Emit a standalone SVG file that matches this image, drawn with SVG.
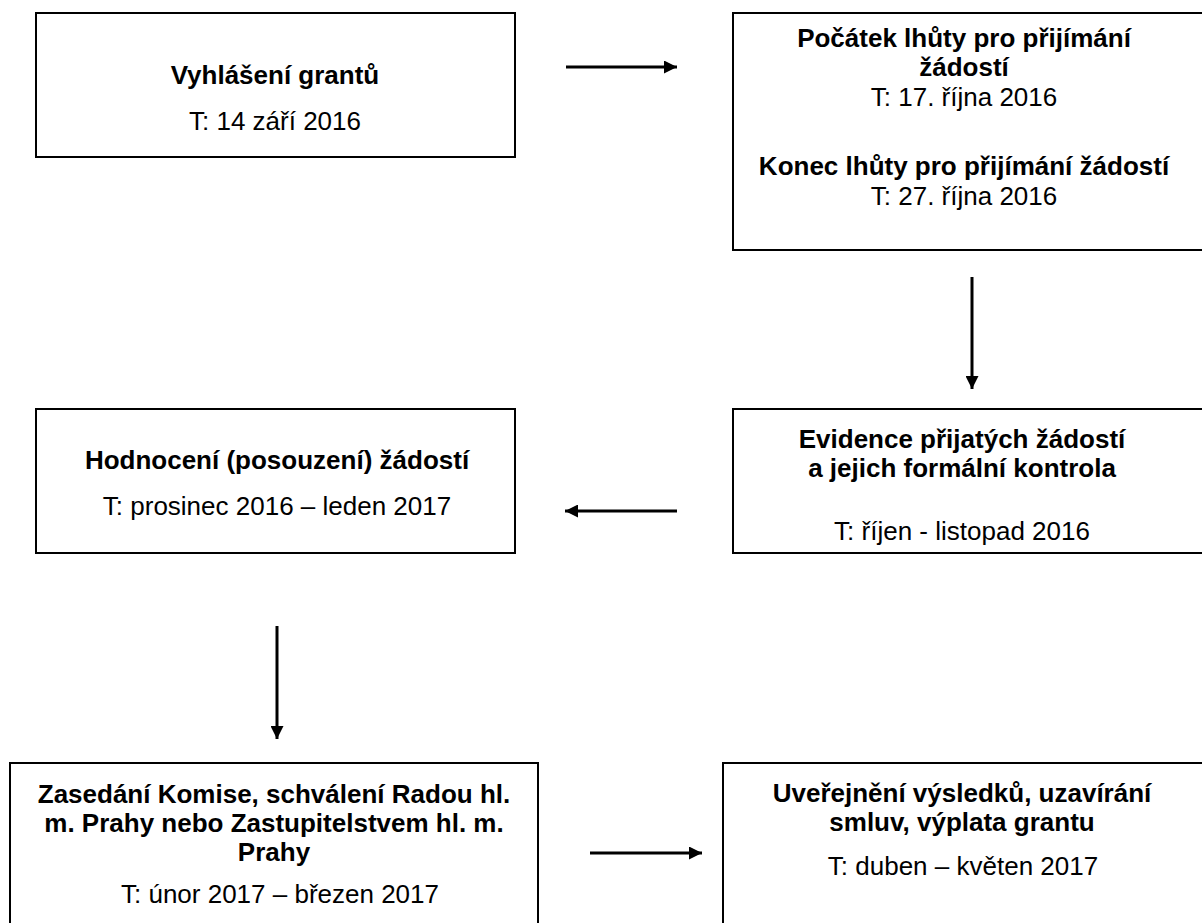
<svg xmlns="http://www.w3.org/2000/svg" width="1202" height="923" viewBox="0 0 1202 923">
<style>
.box{fill:#fff;stroke:#000;stroke-width:2}
.b{font-family:"Liberation Sans",Arial,sans-serif;font-weight:bold;font-size:26px;text-anchor:middle;fill:#000}
.r{font-family:"Liberation Sans",Arial,sans-serif;font-size:26px;text-anchor:middle;fill:#000}
.c{stroke:#000;stroke-width:3;fill:none;marker-end:url(#ah)}
</style>
<defs>
<marker id="ah" viewBox="0 0 10 10" refX="10" refY="5" markerUnits="userSpaceOnUse" markerWidth="13" markerHeight="13" orient="auto">
<path d="M0,0 L10,5 L0,10 Z" fill="#000"/>
</marker>
</defs>
<rect width="1202" height="923" fill="#fff"/>
<g id="n1">
<rect class="box" x="36" y="13" width="479" height="144"/>
<text class="b" x="275" y="84">Vyhlášení grantů</text>
<text class="r" x="275" y="130">T: 14 září 2016</text>
</g>
<g id="n2">
<rect class="box" x="733" y="13" width="480" height="237"/>
<text class="b" x="964" y="47">Počátek lhůty pro přijímání</text>
<text class="b" x="964" y="76">žádostí</text>
<text class="r" x="964" y="106">T: 17. října 2016</text>
<text class="b" x="964" y="175">Konec lhůty pro přijímání žádostí</text>
<text class="r" x="964" y="205">T: 27. října 2016</text>
</g>
<g id="n3">
<rect class="box" x="733" y="409" width="480" height="144"/>
<text class="b" x="962" y="448">Evidence přijatých žádostí</text>
<text class="b" x="962" y="477">a jejich formální kontrola</text>
<text class="r" x="962" y="540">T: říjen - listopad 2016</text>
</g>
<g id="n4">
<rect class="box" x="36" y="409" width="479" height="144"/>
<text class="b" x="277" y="469">Hodnocení (posouzení) žádostí</text>
<text class="r" x="277" y="515">T: prosinec 2016 – leden 2017</text>
</g>
<g id="n5">
<rect class="box" x="10" y="763" width="528" height="180"/>
<text class="b" x="274" y="803">Zasedání Komise, schválení Radou hl.</text>
<text class="b" x="274" y="832">m. Prahy nebo Zastupitelstvem hl. m.</text>
<text class="b" x="274" y="861">Prahy</text>
<text class="r" x="280" y="903">T: únor 2017 – březen 2017</text>
</g>
<g id="n6">
<rect class="box" x="723" y="763" width="490" height="180"/>
<text class="b" x="962" y="802">Uveřejnění výsledků, uzavírání</text>
<text class="b" x="962" y="831">smluv, výplata grantu</text>
<text class="r" x="963" y="875">T: duben – květen 2017</text>
</g>
<g id="connectors">
<line class="c" x1="566" y1="67" x2="677" y2="67"/>
<line class="c" x1="972" y1="277" x2="972" y2="389"/>
<line class="c" x1="677" y1="511" x2="565" y2="511"/>
<line class="c" x1="277" y1="626" x2="277" y2="739"/>
<line class="c" x1="590" y1="853" x2="702" y2="853"/>
</g>
</svg>
